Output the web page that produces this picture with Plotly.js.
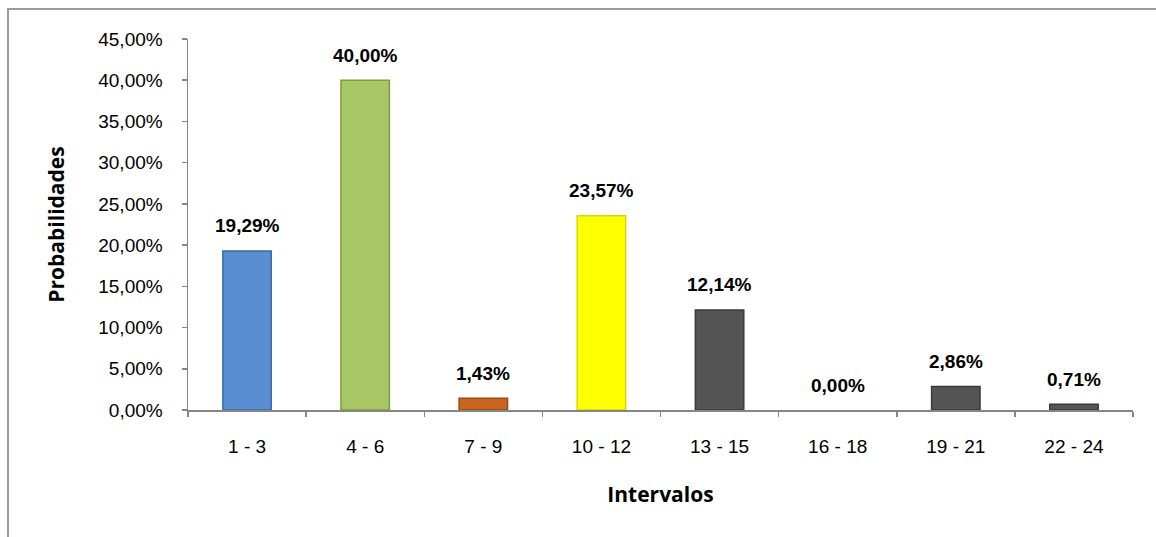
<!DOCTYPE html>
<html>
<head>
<meta charset="utf-8">
<script src="https://cdn.plot.ly/plotly-3.0.1.min.js"></script>
<style>
  html, body { margin: 0; padding: 0; background: #ffffff; overflow: hidden; }
  #chart { width: 1156px; height: 537px; }
  #frame {
    position: absolute; left: 7px; top: 8px; width: 1200px; height: 600px;
    border-left: 2px solid #9c9c9c; border-top: 2px solid #9c9c9c;
    pointer-events: none;
  }
</style>
</head>
<body>
<div id="chart"></div>
<div id="frame"></div>
<script>
// Probability per interval
const intervalos = ['1 - 3', '4 - 6', '7 - 9', '10 - 12', '13 - 15', '16 - 18', '19 - 21', '22 - 24'];
const probabilidades = [0.1929, 0.4000, 0.0143, 0.2357, 0.1214, 0.0000, 0.0286, 0.0071];
const coloresBarra = ['#5a8ed2', '#a6c764', '#c9651f', '#ffff00', '#555555', '#555555', '#555555', '#555555'];
const coloresBorde = ['#3d6aa6', '#7f9c42', '#9a4a12', '#d6d600', '#3a3a3a', '#3a3a3a', '#3a3a3a', '#3a3a3a'];

const fmtPct = v => (v * 100).toFixed(2).replace('.', ',') + '%';

const trace = {
  type: 'bar',
  x: intervalos,
  y: probabilidades,
  marker: {
    color: coloresBarra,
    // no outline on empty bars
    line: { color: coloresBorde, width: probabilidades.map(v => (v > 0 ? 1.5 : 0)) }
  },
  hoverinfo: 'none'
};

const etiquetas = intervalos.map((c, i) => ({
  x: c, y: probabilidades[i], xref: 'x', yref: 'y',
  text: '<b>' + fmtPct(probabilidades[i]) + '</b>',
  showarrow: false, yanchor: 'middle', yshift: 25,
  font: { family: 'Liberation Sans, Arial, sans-serif', size: 19, color: '#000000' }
}));

const axisColor = '#868686';

const layout = {
  width: 1156, height: 537,
  margin: { l: 188, r: 23, t: 39, b: 127 },
  paper_bgcolor: 'rgba(0,0,0,0)', plot_bgcolor: '#ffffff',
  separators: ',.',
  showlegend: false,
  bargap: 0.59,
  font: { family: 'Liberation Sans, Arial, sans-serif', size: 19, color: '#000000' },
  xaxis: {
    type: 'category',
    showline: true, linecolor: axisColor, linewidth: 1.5,
    ticks: 'outside', tickson: 'boundaries', ticklen: 5, tickcolor: axisColor, tickwidth: 1.5,
    ticklabelstandoff: 19,
    showgrid: false, zeroline: false,
    tickfont: { family: 'Liberation Sans, Arial, sans-serif', size: 19 },
    title: { text: '<b>Intervalos</b>', standoff: 31,
             font: { family: 'Open Sans, Noto Sans, sans-serif', size: 21 } }
  },
  yaxis: {
    range: [0, 0.45], dtick: 0.05, tick0: 0, tickformat: '.2%',
    showline: true, linecolor: axisColor, linewidth: 1.5,
    ticks: 'outside', ticklen: 5, tickcolor: axisColor, tickwidth: 1.5,
    ticklabelstandoff: 15,
    showgrid: false, zeroline: false,
    tickfont: { family: 'Liberation Sans, Arial, sans-serif', size: 19 },
    title: { text: '<b>Probabilidades</b>', standoff: 28,
             font: { family: 'Open Sans, Noto Sans, sans-serif', size: 21 } }
  },
  annotations: etiquetas
};

Plotly.newPlot('chart', [trace], layout, { staticPlot: true, displayModeBar: false });
</script>
</body>
</html>
